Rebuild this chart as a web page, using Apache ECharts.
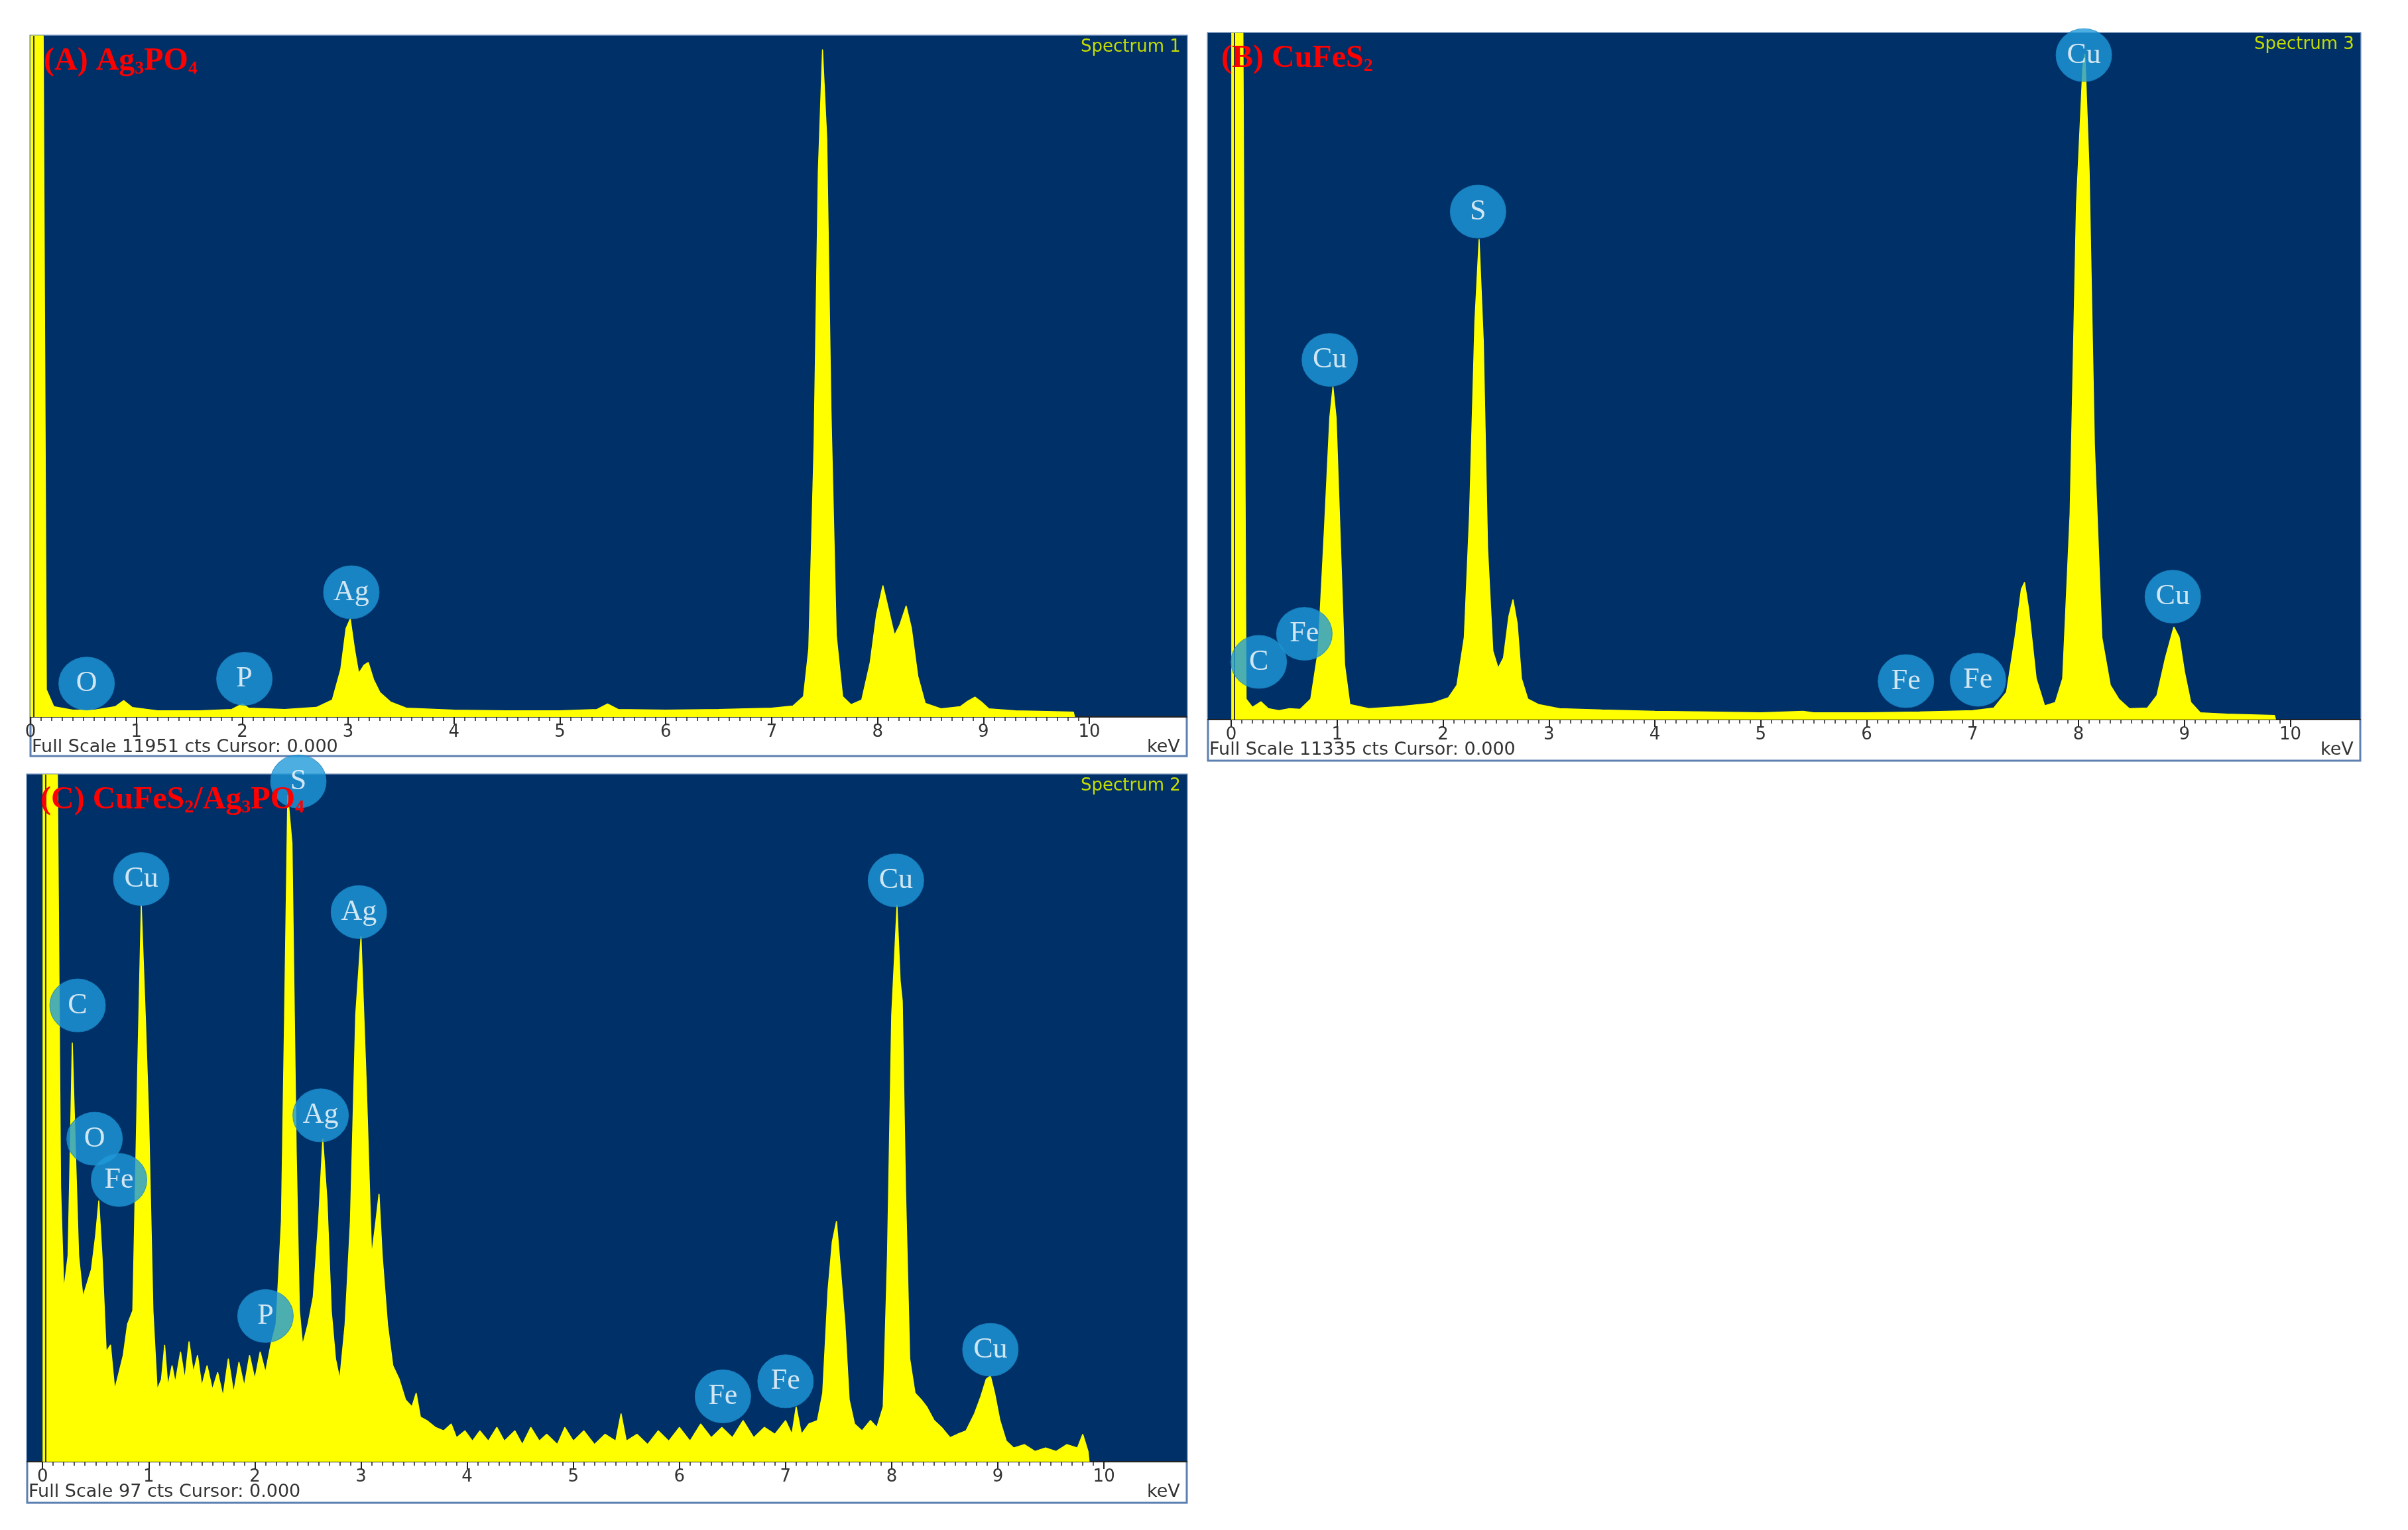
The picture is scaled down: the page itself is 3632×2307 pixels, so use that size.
<!DOCTYPE html>
<html lang="en">
<head>
  <meta charset="UTF-8">
  <title>EDS spectra</title>
  <style>
    html, body { margin: 0; padding: 0; background: #fff; }
    #chart { width: 3632px; height: 2307px; }
  </style>
</head>
<body>
  <div id="chart"></div>
  <script src="https://cdn.jsdelivr.net/npm/echarts@6/dist/echarts.min.js"></script>
  <script>
// keV / % of full scale
const specA = [[0,100],[0.12,100],[0.15,4],[0.22,1.5],[0.4,1],[0.6,1],[0.8,1.5],[0.88,2.4],[0.96,1.4],[1.2,0.9],[1.6,0.9],[1.9,1.1],[2.0,1.9],[2.06,1.3],[2.4,1.1],[2.7,1.4],[2.85,2.5],[2.93,7],[2.98,13],[3.02,14.4],[3.06,10],[3.1,6.4],[3.15,7.6],[3.19,8],[3.24,5.5],[3.3,3.6],[3.4,2.2],[3.55,1.3],[4,1],[4.5,0.9],[5,0.9],[5.35,1.1],[5.45,1.9],[5.55,1.1],[6,1],[6.5,1.1],[7,1.3],[7.2,1.6],[7.3,3],[7.35,10],[7.4,40],[7.44,80],[7.48,98],[7.52,85],[7.56,45],[7.61,12],[7.67,3],[7.75,1.8],[7.85,2.5],[7.93,8],[7.99,15],[8.05,19.3],[8.1,16],[8.16,12],[8.21,13.5],[8.27,16.3],[8.32,13],[8.38,6],[8.45,2],[8.6,1.2],[8.78,1.5],[8.85,2.3],[8.92,2.9],[8.98,2.2],[9.05,1.2],[9.3,0.9],[9.6,0.8],[9.85,0.7],[9.86,0]];
const specB = [[0,100],[0.11,100],[0.14,3],[0.2,1.8],[0.28,2.6],[0.35,1.6],[0.45,1.3],[0.55,1.6],[0.65,1.5],[0.75,3],[0.82,10],[0.88,28],[0.93,44],[0.96,48.5],[0.99,44],[1.03,26],[1.07,8],[1.12,2.2],[1.3,1.6],[1.6,1.9],[1.9,2.4],[2.05,3.2],[2.13,5],[2.2,12],[2.25,30],[2.3,58],[2.34,70],[2.38,55],[2.42,25],[2.47,10],[2.52,7.5],[2.57,9],[2.62,15],[2.66,17.5],[2.7,14],[2.74,6],[2.8,3],[2.9,2.2],[3.1,1.6],[3.5,1.4],[4,1.2],[4.5,1.1],[5,1],[5.4,1.2],[5.5,1],[6,1],[6.5,1.1],[7,1.3],[7.2,1.7],[7.32,4],[7.4,12],[7.46,19],[7.49,20],[7.53,16],[7.6,6],[7.68,2],[7.78,2.5],[7.85,6],[7.92,30],[7.98,75],[8.04,95],[8.06,97],[8.1,80],[8.15,40],[8.22,12],[8.3,5],[8.38,3],[8.48,1.6],[8.65,1.7],[8.74,3.5],[8.82,9],[8.9,13.5],[8.95,12],[9.0,7],[9.06,2.5],[9.15,1],[9.4,0.8],[9.85,0.6],[9.86,0]];
const specC = [[0,100],[0.14,100],[0.17,40],[0.2,25],[0.24,30],[0.26,45],[0.28,61],[0.31,45],[0.34,30],[0.38,24],[0.42,26],[0.46,28],[0.5,33],[0.53,38],[0.56,30],[0.6,16],[0.64,17],[0.68,10.5],[0.72,13],[0.76,15.5],[0.8,20],[0.85,22],[0.9,60],[0.93,81],[0.97,64],[1.0,50],[1.04,22],[1.08,10.5],[1.12,12],[1.15,17],[1.18,11],[1.22,14],[1.25,11.5],[1.3,16],[1.34,12],[1.38,17.5],[1.42,13],[1.46,15.5],[1.5,11],[1.55,14],[1.6,10.5],[1.65,13],[1.7,9.5],[1.75,15],[1.8,10],[1.85,14.5],[1.9,11],[1.95,15.5],[2.0,12],[2.05,16],[2.1,13],[2.15,17],[2.2,20],[2.25,35],[2.28,65],[2.31,97],[2.35,90],[2.39,45],[2.42,22],[2.45,17],[2.5,20],[2.55,24],[2.6,35],[2.64,47],[2.68,38],[2.72,22],[2.76,15],[2.8,12],[2.85,20],[2.9,35],[2.95,65],[3.0,76.5],[3.05,55],[3.1,30],[3.14,35],[3.17,39],[3.2,30],[3.25,20],[3.3,14],[3.36,12],[3.42,9],[3.48,8],[3.52,10],[3.56,6.5],[3.62,6],[3.7,5],[3.78,4.5],[3.85,5.5],[3.9,3.5],[3.98,4.5],[4.05,3],[4.12,4.5],[4.2,3],[4.28,5],[4.35,3],[4.45,4.5],[4.52,2.5],[4.6,5],[4.68,3],[4.75,4],[4.85,2.5],[4.92,5],[5.0,3],[5.1,4.5],[5.2,2.5],[5.3,4],[5.4,3],[5.45,7],[5.5,3],[5.6,4],[5.7,2.5],[5.8,4.5],[5.9,3],[6.0,5],[6.1,3],[6.2,5.5],[6.3,3.5],[6.4,5],[6.5,3.5],[6.6,6],[6.7,3.5],[6.8,5],[6.9,4],[7.0,6],[7.06,4],[7.1,8],[7.15,4],[7.22,5.5],[7.3,6],[7.35,10],[7.4,25],[7.44,32],[7.48,35],[7.52,27.6],[7.56,20],[7.6,9],[7.65,5.5],[7.72,4.5],[7.8,6],[7.86,5],[7.92,8],[7.96,30],[8.0,65],[8.05,81],[8.08,70],[8.1,67],[8.13,40],[8.17,15],[8.22,10],[8.28,9],[8.33,8],[8.4,6],[8.47,5],[8.55,3.5],[8.62,4],[8.7,4.5],[8.78,7],[8.84,9.5],[8.89,12],[8.93,12.5],[8.97,10],[9.02,6],[9.08,3],[9.15,2],[9.25,2.5],[9.35,1.5],[9.45,2],[9.55,1.5],[9.65,2.5],[9.75,2],[9.8,4],[9.85,1.5],[9.86,0]];

// element markers: [keV, %, element]
const markA = [[0.53,4.9,'O'],[2.02,5.6,'P'],[3.03,18.3,'Ag']];
const markB = [[0.26,8.4,'C'],[0.69,12.5,'Fe'],[0.93,52.4,'Cu'],[2.33,74,'S'],[6.37,5.6,'Fe'],[7.05,5.8,'Fe'],[8.05,96.8,'Cu'],[8.89,17.9,'Cu']];
const markC = [[2.41,99,'S'],[0.33,66.4,'C'],[0.93,84.8,'Cu'],[2.98,80,'Ag'],[0.49,47,'O'],[0.72,41,'Fe'],[2.62,50.4,'Ag'],[2.1,21.2,'P'],[6.41,9.5,'Fe'],[7.0,11.7,'Fe'],[8.04,84.6,'Cu'],[8.93,16.3,'Cu']];

const majorTicks = [0,1,2,3,4,5,6,7,8,9,10];
const minorTicks = [];
for (let i = 0; i <= 100; i++) minorTicks.push(i / 10);

const panels = [
  { spec: specA, marks: markA, box: [46, 54, 1744, 1027], strip: 59, min: 0, max: 10.92,
    title: '{n|(A) Ag}{s|3}{n|PO}{s|4}', name: 'Spectrum 1', scale: 'Full Scale 11951 cts Cursor: 0.000' },
  { spec: specB, marks: markB, box: [1822, 50, 1738, 1035], strip: 62, min: -0.22, max: 10.66,
    title: '{n|(B) CuFeS}{s|2}', name: 'Spectrum 3', scale: 'Full Scale 11335 cts Cursor: 0.000' },
  { spec: specC, marks: markC, box: [41, 1168, 1749, 1036], strip: 62, min: -0.145, max: 10.78,
    title: '{n|(C) CuFeS}{s|2}{n|/Ag}{s|3}{n|PO}{s|4}', name: 'Spectrum 2', scale: 'Full Scale 97 cts Cursor: 0.000' }
];

const grid = [], xAxis = [], yAxis = [], series = [], graphic = [];
const tickFont = { fontFamily: 'DejaVu Sans', fontSize: 26, color: '#333' };

panels.forEach((p, i) => {
  const [l, t, w, h] = p.box;
  grid.push({ left: l, top: t, width: w, height: h, show: true, backgroundColor: '#003068', borderWidth: 0 });
  xAxis.push({
    type: 'value', gridIndex: i, min: p.min, max: p.max, position: 'bottom',
    axisLine: { lineStyle: { color: '#222', width: 2 } },
    axisTick: { customValues: majorTicks, length: 11, lineStyle: { color: '#222', width: 2 } },
    axisLabel: { customValues: majorTicks, margin: 10, ...tickFont },
    splitLine: { show: false }
  });
  xAxis.push({
    type: 'value', gridIndex: i, min: p.min, max: p.max, position: 'bottom',
    axisLine: { show: false },
    axisTick: { customValues: minorTicks, length: 6, lineStyle: { color: '#222', width: 1.5 } },
    axisLabel: { show: false }, splitLine: { show: false }
  });
  yAxis.push({ type: 'value', gridIndex: i, min: 0, max: 100, show: false });

  series.push({
    type: 'line', xAxisIndex: 2 * i, yAxisIndex: i, data: p.spec, symbol: 'none',
    lineStyle: { color: '#ffff00', width: 1.5 }, areaStyle: { color: '#ffff00', opacity: 1 },
    markLine: {
      silent: true, symbol: 'none', label: { show: false },
      lineStyle: { color: '#333', width: 2, type: 'solid' },
      data: [{ xAxis: 0.03 }]
    }
  });
  series.push({
    type: 'scatter', xAxisIndex: 2 * i, yAxisIndex: i, clip: false, z: 5,
    data: p.marks.map(m => ({ value: [m[0], m[1]], name: m[2] })),
    symbol: 'circle', symbolSize: [84, 80],
    itemStyle: { color: '#1f9ad9', borderColor: '#1a86c4', borderWidth: 1 },
    label: { show: true, position: 'inside', formatter: '{b}', color: '#fff',
      fontFamily: 'Liberation Serif', fontSize: 44 }
  });

  // frame and white strip
  graphic.push({ type: 'rect', z: -1, shape: { x: l, y: t, width: w, height: h + p.strip },
    style: { fill: '#fff', stroke: '#5d80b0', lineWidth: 3 } });
  graphic.push({ type: 'text', z: 10, left: l + 2, top: t + h + 32,
    style: { text: p.scale, fontFamily: 'DejaVu Sans', fontSize: 27, fill: '#333' } });
  graphic.push({ type: 'text', z: 10, left: l + w - 60, top: t + h + 32,
    style: { text: 'keV', fontFamily: 'DejaVu Sans', fontSize: 27, fill: '#333' } });
  graphic.push({ type: 'text', z: 10, left: l + w - 160, top: t + 4,
    style: { text: p.name, fontFamily: 'DejaVu Sans', fontSize: 26, fill: '#c4dc00' } });
  graphic.push({ type: 'text', z: 100, left: l + 20, top: t + 14,
    style: {
      text: p.title,
      rich: {
        n: { fontFamily: 'Liberation Serif', fontWeight: 'bold', fontSize: 48, fill: '#ff0000', lineHeight: 56 },
        s: { fontFamily: 'Liberation Serif', fontWeight: 'bold', fontSize: 28, fill: '#ff0000', lineHeight: 56, padding: [22, 0, 0, 0] }
      }
    } });
});

const chart = echarts.init(document.getElementById('chart'));
chart.setOption({ animation: false, backgroundColor: '#fff', grid, xAxis, yAxis, series, graphic });
  </script>
</body>
</html>
